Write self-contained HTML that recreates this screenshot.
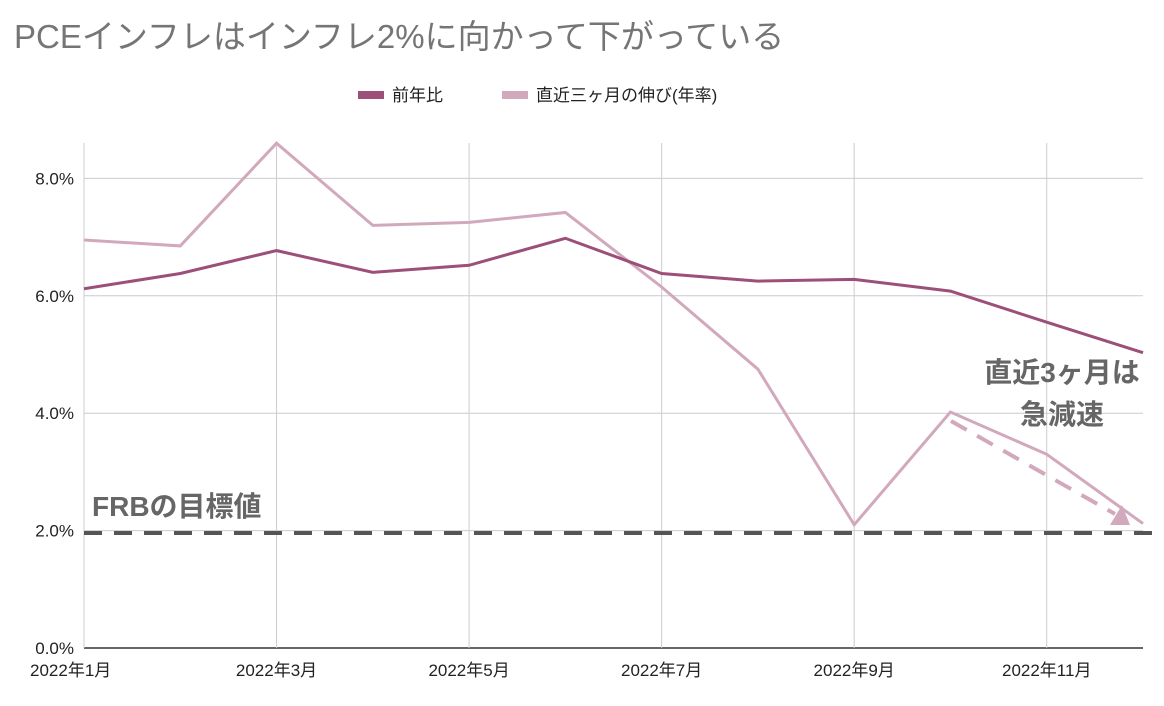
<!DOCTYPE html>
<html><head><meta charset="utf-8"><style>
body{margin:0;background:#fff;width:1164px;height:706px;overflow:hidden;font-family:"Liberation Sans","Noto Sans CJK JP",sans-serif}
</style></head><body>
<svg id="c" width="1164" height="706" style="position:absolute;left:0;top:0" font-family="Liberation Sans, Noto Sans CJK JP, sans-serif">
<text x="14" y="48" font-size="33" fill="#757575">PCEインフレはインフレ2%に向かって下がっている</text>
<g>
<rect x="358" y="91" width="26" height="8" fill="#9c4f78"/>
<text x="392" y="101" font-size="17" fill="#222">前年比</text>
<rect x="502" y="91" width="26" height="8" fill="#d2a8bd"/>
<text x="536" y="101" font-size="17" fill="#222">直近三ヶ月の伸び(年率)</text>
</g>
<g id="gridG"></g><g id="marksG"></g>
<text x="92" y="516" font-size="28" font-weight="bold" fill="#666">FRBの目標値</text>
<text x="1062" y="382" font-size="28" font-weight="bold" fill="#666" text-anchor="middle">直近3ヶ月は</text>
<text x="1062" y="424" font-size="28" font-weight="bold" fill="#666" text-anchor="middle">急減速</text>
<line x1="951" y1="421" x2="1115" y2="514" stroke="#d2a8bd" stroke-width="4" stroke-dasharray="18,12"/>
<polygon points="1110,525 1130,525 1122,505" fill="#d2a8bd"/>
</svg>
<script>
const months=["2022年1月","2月","2022年3月","4月","2022年5月","6月","2022年7月","8月","2022年9月","10月","2022年11月","12月"];
const yoy=[6.12,6.38,6.77,6.4,6.52,6.98,6.38,6.25,6.28,6.08,5.55,5.03];
const threeMonth=[6.95,6.85,8.6,7.2,7.25,7.42,6.15,4.75,2.1,4.02,3.3,2.12];
const yTicks=[0,2,4,6,8];
const target=[1.96];
const NS="http://www.w3.org/2000/svg";
const x0=84,x1=1143,y0=648,pp=58.7,plotTop=143;
const X=i=>x0+i*(x1-x0)/(months.length-1);
const Y=v=>y0-v*pp;
const gridEl=document.getElementById('gridG'),marksEl=document.getElementById('marksG');
function mk(t,a,p){const e=document.createElementNS(NS,t);for(const k in a)e.setAttribute(k,a[k]);p.appendChild(e);return e;}
yTicks.forEach(v=>{
 const l=mk('line',{x1:x0,x2:x1,y1:Y(v),y2:Y(v),stroke:v==0?'#333':'#ccc','stroke-width':v==0?1.5:1},gridEl);
 
 
 const t=mk('text',{x:x0-10,y:Y(v)+6,'font-size':17,fill:'#222','text-anchor':'end'},gridEl);
 t.textContent=v.toFixed(1)+'%';
 
 
});
months.forEach((m,i)=>{
 if(i%2)return;
 const l=mk('line',{x1:X(i),x2:X(i),y1:plotTop,y2:y0,stroke:'#ccc','stroke-width':1},gridEl);
 
 
 const t=mk('text',{x:i==0?x0-54:X(i),y:676,'font-size':17,fill:'#222','text-anchor':i==0?'start':'middle'},gridEl);
 t.textContent=m;
 
 
});
const tl=mk('line',{x1:x0,x2:1164,y1:Y(target[0]),y2:Y(target[0]),stroke:'#555','stroke-width':4,'stroke-dasharray':'18,12'},marksEl);


function line(d,c,n){const p=mk('polyline',{points:d.map((v,i)=>X(i)+','+Y(v)).join(' '),fill:'none',stroke:c,'stroke-width':3},marksEl);
 
 }
line(threeMonth,'#d2a8bd','series-3month');
line(yoy,'#9c4f78','series-yoy');
</script>
</body></html>
